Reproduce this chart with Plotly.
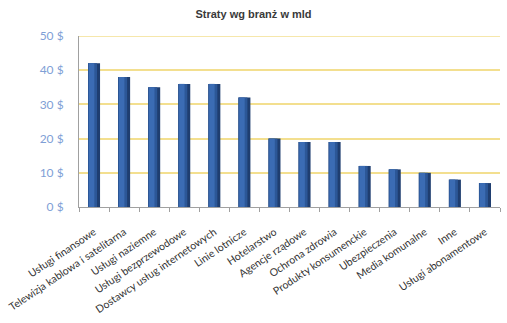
import plotly.graph_objects as go

categories = ["Usługi finansowe", "Telewizja kablowa i satelitarna", "Usługi naziemne",
              "Usługi bezprzewodowe", "Dostawcy usług internetowych", "Linie lotnicze",
              "Hotelarstwo", "Agencje rządowe", "Ochrona zdrowia", "Produkty konsumenckie",
              "Ubezpieczenia", "Media komunalne", "Inne", "Usługi abonamentowe"]
values = [42, 38, 35, 36, 36, 32, 20, 19, 19, 12, 11, 10, 8, 7]
y_ticks = [0, 10, 20, 30, 40, 50]
y_tick_labels = ["0 $", "10 $", "20 $", "30 $", "40 $", "50 $"]

fig = go.Figure()
# base (dark right edge)
fig.add_trace(go.Bar(x=categories, y=values, width=0.4, offset=-0.2,
                     marker=dict(color="#1f3e70", line=dict(width=0)), hoverinfo="skip"))
# mid shading
fig.add_trace(go.Bar(x=categories, y=values, width=0.3, offset=-0.2,
                     marker=dict(color="#2c5797", line=dict(width=0)), hoverinfo="skip"))
# light left portion
fig.add_trace(go.Bar(x=categories, y=values, width=0.18, offset=-0.17,
                     marker=dict(color="#3b6cb4", line=dict(width=0)), hoverinfo="skip"))

# top gridline (Plotly omits the gridline at the range edge)
fig.add_shape(type="line", xref="paper", x0=0, x1=1, yref="y", y0=y_ticks[-1], y1=y_ticks[-1],
              line=dict(color="#f3df8f", width=1.5), layer="below")

fig.update_layout(
    width=507, height=323,
    margin=dict(l=77, r=7, t=36, b=116),
    paper_bgcolor="white", plot_bgcolor="white",
    barmode="overlay", showlegend=False,
    title=dict(text="<b>Straty wg branż w mld</b>", x=0.5, xanchor="center", y=0.955, yanchor="middle",
               font=dict(family="Liberation Sans Narrow, Arial Narrow, sans-serif", size=11, color="#3a3a3a")),
    font=dict(family="Lato, Open Sans, sans-serif"),
)
fig.update_xaxes(
    tickangle=-34, tickfont=dict(size=10.5, color="#333333"),
    showline=True, linecolor="#a0a0a0", linewidth=1,
    ticks="outside", ticklen=4, tickcolor="#a0a0a0", tickson="boundaries",
    ticklabelstandoff=14,
    showgrid=False, range=[-0.5, 13.5],
)
fig.update_yaxes(
    range=[0, 50], tickvals=y_ticks, ticktext=y_tick_labels,
    tickfont=dict(size=12, color="#7f9fd6"),
    showline=True, linecolor="#a0a0a0", linewidth=1,
    showgrid=True, gridcolor="#f3df8f", gridwidth=1.5,
    ticks="", ticklabelstandoff=12, zeroline=False,
)
fig.write_html("out.html")
